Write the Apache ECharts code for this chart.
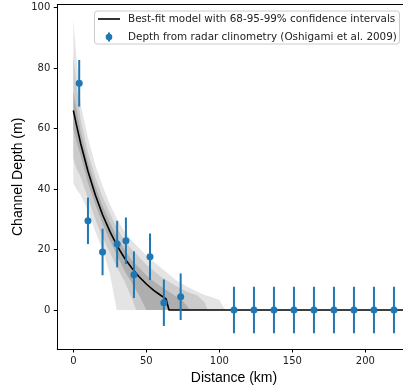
<!DOCTYPE html>
<html><head><meta charset="utf-8">
<script src="https://cdn.jsdelivr.net/npm/echarts@6/dist/echarts.min.js"></script>
<style>html,body{margin:0;padding:0;background:#fff}#c{width:403px;height:385px}</style>
</head><body><div id="c"></div>
<script>
// Observations (distance km, depth m, 1-sigma error)
const distances = [4, 10, 20, 30, 36, 41.5, 52.5, 62, 73.5, 110, 123.7, 137.4, 151.1, 164.8, 178.5, 192.2, 205.9, 219.6];
const depths    = [75, 29.5, 19.2, 21.8, 22.9, 11.7, 17.6, 2.4, 4.4, 0, 0, 0, 0, 0, 0, 0, 0, 0];
const depthErr  = [7.7, 7.7, 7.7, 7.7, 7.7, 7.7, 7.7, 7.7, 7.7, 7.7, 7.7, 7.7, 7.7, 7.7, 7.7, 7.7, 7.7, 7.7];

// Best-fit model
const fitX = [0, 2, 5, 10, 15, 20, 25, 30, 35, 40, 45, 50, 55, 60, 63.5, 65.5, 231];
const fitY = [66, 61.5, 55.1, 45.9, 38.1, 31.5, 26.0, 21.2, 17.2, 13.9, 11.0, 8.6, 6.5, 4.8, 3.7, 0, 0];

// Confidence bands
const band99UpX = [0, 2, 5, 10, 15, 20, 25, 30, 35, 40, 45, 50, 55, 60, 65, 70, 75, 80, 85, 90, 95, 100, 104];
const band99Up  = [96, 84, 68, 57, 48, 41, 35, 30, 26, 23, 20.5, 18, 16, 14, 12, 10, 8.5, 7.2, 6, 5, 4.2, 3.3, 0];
const band99LoX = [0, 2, 5, 10, 15, 20, 25, 29.7];
const band99Lo  = [42, 40, 38, 33, 26, 20, 12, 0];

const band95UpX = [0, 2, 5, 10, 15, 20, 25, 30, 35, 40, 45, 50, 55, 60, 65, 70, 75, 80, 85, 90, 92];
const band95Up  = [84, 75, 63, 52, 44, 37.5, 32, 27, 23, 20, 17.5, 15, 13, 11, 9.5, 8, 6.8, 5.6, 4.8, 2.5, 0];
const band95LoX = [0, 2, 5, 10, 15, 20, 25, 30, 35, 40, 43];
const band95Lo  = [50, 47, 44, 37, 30, 24, 19, 14, 9.5, 4, 0];

const band68UpX = [0, 2, 5, 10, 15, 20, 25, 30, 35, 40, 45, 50, 55, 60, 65, 70, 75, 80];
const band68Up  = [72, 67, 59, 49, 41, 34.5, 29, 24, 20, 16.5, 14, 11.5, 9.5, 7.8, 6.2, 4.6, 3, 0];
const band68LoX = [0, 2, 5, 10, 15, 20, 25, 30, 35, 40, 45, 50];
const band68Lo  = [60, 56, 51, 42, 35, 28.5, 23, 18, 13, 9, 5, 0];

const xTicks = [0, 50, 100, 150, 200];
const yTicks = [0, 20, 40, 60, 80, 100];

const lineLabel = 'Best-fit model with 68-95-99% confidence intervals';
const pointLabel = 'Depth from radar clinometry (Oshigami et al. 2009)';

const BLUE = '#1f77b4';

function bandSeries(upX, up, loX, lo, color, z) {
  return {
    type: 'custom', coordinateSystem: 'cartesian2d', clip: true, silent: true, z: z,
    data: [[upX[0], up[0]]],
    renderItem: function (params, api) {
      const pts = [];
      for (let i = 0; i < upX.length; i++) pts.push(api.coord([upX[i], up[i]]));
      for (let i = loX.length - 1; i >= 0; i--) pts.push(api.coord([loX[i], lo[i]]));
      return { type: 'polygon', shape: { points: pts }, style: { fill: color } };
    }
  };
}

const chart = echarts.init(document.getElementById('c'), null, { renderer: 'canvas' });
chart.setOption({
  animation: false,
  backgroundColor: '#fff',
  grid: { left: 57.3, right: -7.6, top: 4.7, bottom: 36, containLabel: false, outerBoundsMode: 'none' },
  xAxis: [{
    type: 'value', min: -11, max: 231,
    name: 'Distance (km)', nameLocation: 'middle', nameGap: 20,
    nameTextStyle: { fontFamily: 'Liberation Sans', fontSize: 14, color: '#000' },
    axisLine: { show: true, onZero: false, lineStyle: { color: '#000', width: 1 } },
    axisTick: { show: true, length: 3.5, customValues: xTicks, lineStyle: { color: '#000' } },
    axisLabel: { customValues: xTicks, fontFamily: 'DejaVu Sans', fontSize: 10, color: '#222', margin: 7 },
    splitLine: { show: false }
  }, {
    type: 'value', position: 'top', min: -11, max: 231,
    axisLine: { show: true, onZero: false, lineStyle: { color: '#000', width: 1 } },
    axisTick: { show: false }, axisLabel: { show: false }, splitLine: { show: false }
  }],
  yAxis: [{
    type: 'value', min: -12.9, max: 101,
    name: 'Channel Depth (m)', nameLocation: 'middle', nameGap: 32, nameMoveOverlap: false,
    nameTextStyle: { fontFamily: 'Liberation Sans', fontSize: 14, color: '#000' },
    axisLine: { show: true, onZero: false, lineStyle: { color: '#000', width: 1 } },
    axisTick: { show: true, length: 3.5, customValues: yTicks, lineStyle: { color: '#000' } },
    axisLabel: { customValues: yTicks, fontFamily: 'DejaVu Sans', fontSize: 10, color: '#222', margin: 7 },
    splitLine: { show: false }
  }],
  series: [
    bandSeries(band99UpX, band99Up, band99LoX, band99Lo, '#e4e4e4', 1),
    bandSeries(band95UpX, band95Up, band95LoX, band95Lo, '#cbcbcb', 2),
    bandSeries(band68UpX, band68Up, band68LoX, band68Lo, '#aeaeae', 3),
    {
      type: 'line', name: lineLabel, z: 4, symbol: 'none', silent: true,
      data: fitX.map((x, i) => [x, fitY[i]]),
      lineStyle: { color: '#000', width: 1.6 }
    },
    {
      type: 'custom', z: 5, silent: true,
      data: distances.map((d, i) => [d, depths[i], depthErr[i]]),
      encode: { x: 0, y: 1 },
      renderItem: function (params, api) {
        const x = api.value(0), y = api.value(1), e = api.value(2);
        const p1 = api.coord([x, y - e]), p2 = api.coord([x, y + e]);
        return { type: 'line', shape: { x1: p1[0], y1: p1[1], x2: p2[0], y2: p2[1] },
                 style: { stroke: BLUE, lineWidth: 2 } };
      }
    },
    {
      type: 'scatter', name: pointLabel, z: 6, silent: true, symbolSize: 7,
      data: distances.map((d, i) => [d, depths[i]]),
      itemStyle: { color: BLUE, opacity: 1 }
    }
  ],
  graphic: [
    { type: 'rect', z: 100, shape: { x: 94.5, y: 11, width: 305, height: 33, r: 3 },
      style: { fill: 'rgba(255,255,255,0.85)', stroke: '#cccccc', lineWidth: 1 } },
    { type: 'line', z: 101, shape: { x1: 98, y1: 19, x2: 120, y2: 19 }, style: { stroke: '#000', lineWidth: 1.6 } },
    { type: 'line', z: 101, shape: { x1: 109, y1: 32.5, x2: 109, y2: 41.5 }, style: { stroke: BLUE, lineWidth: 2 } },
    { type: 'circle', z: 102, shape: { cx: 109, cy: 37, r: 3.3 }, style: { fill: BLUE } },
    { type: 'text', z: 102, x: 128, y: 19, style: { text: lineLabel, font: '10.4px "DejaVu Sans"', fill: '#222', verticalAlign: 'middle' } },
    { type: 'text', z: 102, x: 128, y: 37, style: { text: pointLabel, font: '10.4px "DejaVu Sans"', fill: '#222', verticalAlign: 'middle' } }
  ]
});
</script>
</body></html>
